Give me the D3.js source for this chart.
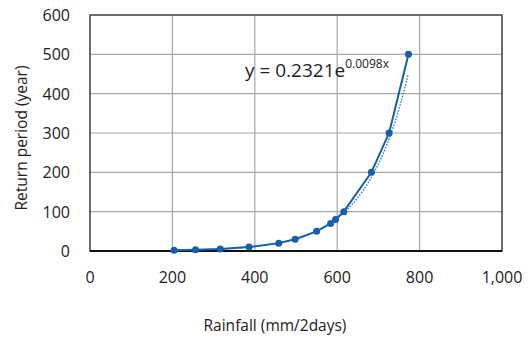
<!DOCTYPE html>
<html>
<head>
<meta charset="utf-8">
<script src="https://cdn.jsdelivr.net/npm/d3@7"></script>
<style>
  body { margin: 0; background: #fff; }
  svg text { font-family: "Open Sans", "Noto Sans", sans-serif; fill: #222; }
</style>
</head>
<body>
<svg id="chart" width="528" height="341"></svg>
<script>
// observed rainfall (mm/2days) vs return period (year)
var rainfall = [204, 256, 316, 386, 458, 498, 550, 584, 596, 616, 683, 726, 773];
var returnPeriod = [2, 3, 5, 10, 20, 30, 50, 70, 80, 100, 200, 300, 500];

var xTicks = [0, 200, 400, 600, 800, 1000];
var yTicks = [0, 100, 200, 300, 400, 500, 600];

// fitted exponential trend y = a * e^(b x), coefficients as printed on the chart
var trendA = 0.2321, trendB = 0.0098;

var svg = d3.select("#chart");
var margin = {left: 90, top: 15, right: 26, bottom: 90};
var width = 528 - margin.left - margin.right;
var height = 341 - margin.top - margin.bottom;

var x = d3.scaleLinear().domain([0, 1000]).range([margin.left, margin.left + width]);
var y = d3.scaleLinear().domain([0, 600]).range([margin.top + height, margin.top]);

// gridlines
svg.append("g")
  .selectAll("line.vx")
  .data(xTicks)
  .enter().append("line")
  .attr("x1", function (d) { return x(d); })
  .attr("x2", function (d) { return x(d); })
  .attr("y1", y(0)).attr("y2", y(600))
  .attr("stroke", "#a6a6a6").attr("stroke-width", 1.2);

svg.append("g")
  .selectAll("line.hy")
  .data(yTicks)
  .enter().append("line")
  .attr("x1", x(0)).attr("x2", x(1000))
  .attr("y1", function (d) { return y(d); })
  .attr("y2", function (d) { return y(d); })
  .attr("stroke", "#a6a6a6").attr("stroke-width", 1.2);

// plot frame
svg.append("rect")
  .attr("x", x(0)).attr("y", y(600))
  .attr("width", x(1000) - x(0)).attr("height", y(0) - y(600))
  .attr("fill", "none").attr("stroke", "#4d4d4d").attr("stroke-width", 1.5);

svg.append("line")
  .attr("x1", x(0)).attr("x2", x(1000))
  .attr("y1", y(0)).attr("y2", y(0))
  .attr("stroke", "#111").attr("stroke-width", 1.8);

// tick labels
var fmt = d3.format(",");
svg.append("g")
  .selectAll("text")
  .data(xTicks)
  .enter().append("text")
  .attr("x", function (d) { return x(d); })
  .attr("y", 283)
  .attr("text-anchor", "middle")
  .attr("font-size", 16)
  .text(function (d) { return fmt(d); });

svg.append("g")
  .selectAll("text")
  .data(yTicks)
  .enter().append("text")
  .attr("x", 70)
  .attr("y", function (d) { return y(d) + 6; })
  .attr("text-anchor", "end")
  .attr("font-size", 16)
  .text(function (d) { return d; });

// axis titles
svg.append("text")
  .attr("x", 275).attr("y", 331)
  .attr("text-anchor", "middle")
  .attr("font-size", 15.5)
  .text("Rainfall (mm/2days)");

svg.append("text")
  .attr("transform", "translate(27,138) rotate(-90)")
  .attr("text-anchor", "middle")
  .attr("font-size", 15.5)
  .text("Return period (year)");

// trendline (dotted)
var trendX = d3.range(rainfall[0], rainfall[rainfall.length - 1] + 1, 4);
var trendLine = d3.line()
  .x(function (d) { return x(d); })
  .y(function (d) { return y(trendA * Math.exp(trendB * d)); });

svg.append("path")
  .datum(trendX)
  .attr("d", trendLine)
  .attr("fill", "none")
  .attr("stroke", "#2a6db5")
  .attr("stroke-width", 1.3)
  .attr("stroke-dasharray", "1.5,1.5");

// data line + markers
var pts = rainfall.map(function (r, i) { return [r, returnPeriod[i]]; });
var dataLine = d3.line()
  .x(function (d) { return x(d[0]); })
  .y(function (d) { return y(d[1]); });

svg.append("path")
  .datum(pts)
  .attr("d", dataLine)
  .attr("fill", "none")
  .attr("stroke", "#1560a8")
  .attr("stroke-width", 2);

svg.append("g")
  .selectAll("circle")
  .data(pts)
  .enter().append("circle")
  .attr("cx", function (d) { return x(d[0]); })
  .attr("cy", function (d) { return y(d[1]); })
  .attr("r", 3.5)
  .attr("fill", "#1560a8");

// trend equation
var eq = svg.append("text")
  .attr("x", 245).attr("y", 77)
  .attr("font-family", "'Liberation Sans Narrow', 'Liberation Sans', sans-serif")
  .attr("font-size", 19);
eq.append("tspan").text("y = " + trendA + "e");
eq.append("tspan")
  .attr("dy", -9)
  .attr("font-size", 12)
  .text(trendB + "x");
</script>
</body>
</html>
